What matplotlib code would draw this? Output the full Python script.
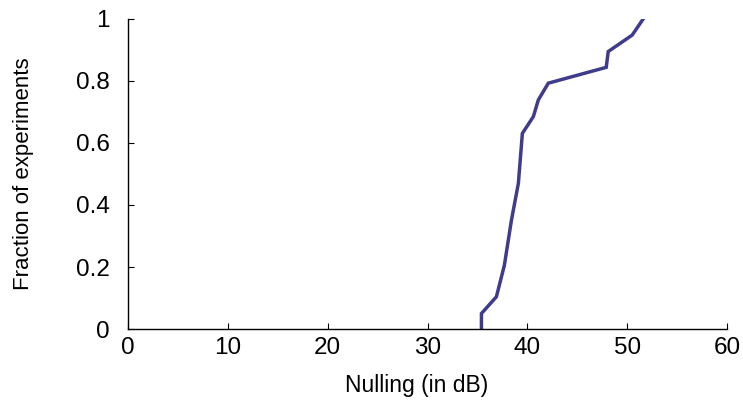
import matplotlib
matplotlib.use("Agg")
import matplotlib.pyplot as plt

# CDF of nulling values
nulling_db = [35.4, 35.4, 36.9, 37.7, 38.4, 39.1, 39.5, 40.6, 41.1, 42.1, 47.9, 48.1, 50.5, 51.6]
fraction = [0.0, 0.05, 0.104, 0.206, 0.35, 0.47, 0.631, 0.685, 0.739, 0.793, 0.844, 0.895, 0.948, 1.0]

x_ticks = [0, 10, 20, 30, 40, 50, 60]
y_ticks = [0, 0.2, 0.4, 0.6, 0.8, 1]
y_labels = ["0", "0.2", "0.4", "0.6", "0.8", "1"]

plt.rcParams['font.family'] = ['Liberation Sans', 'DejaVu Sans']

fig = plt.figure(figsize=(7.43, 4.03), dpi=100)
ax = fig.add_axes([0.1723, 0.1836, 0.8062, 0.7693])

ax.plot(nulling_db, fraction, color='#403c8c', linewidth=2.5, solid_joinstyle='miter')

ax.set_xlim(0, 60)
ax.set_ylim(0, 1)
ax.set_xticks(x_ticks)
ax.set_yticks(y_ticks)
ax.set_yticklabels(y_labels)
ax.tick_params(direction='in', length=4, width=0.8, labelsize=17.5)
ax.tick_params(axis='y', pad=13)
ax.tick_params(axis='x', pad=6)
for s in ['top', 'right']:
    ax.spines[s].set_visible(False)
for s in ['left', 'bottom']:
    ax.spines[s].set_linewidth(1.0)

ax.set_xlabel("Nulling (in dB)", fontsize=16.5)
ax.xaxis.set_label_coords(0.481, -0.145)
ax.set_ylabel("Fraction of experiments", fontsize=16, labelpad=30)

fig.savefig("out.png", dpi=100)
